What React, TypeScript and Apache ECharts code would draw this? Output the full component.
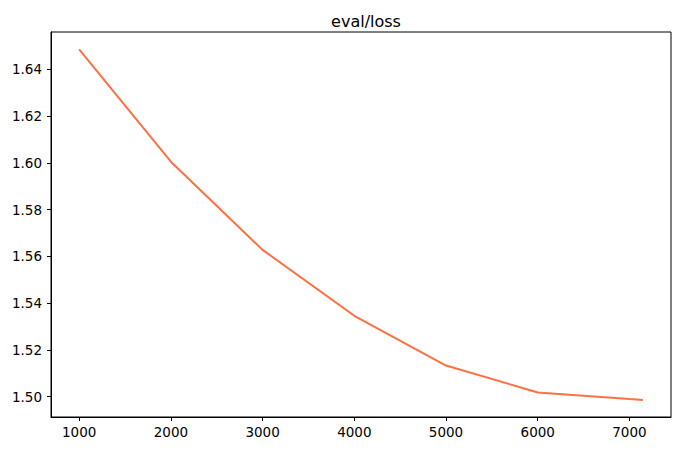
import React, { useEffect, useRef } from "react";
import * as echarts from "echarts";

const steps = [1000, 2000, 3000, 4000, 5000, 6000, 7000, 7146];
const evalLoss = [1.6486, 1.6005, 1.5628, 1.5346, 1.5133, 1.5018, 1.4990, 1.4986];
const xTicks = [1000, 2000, 3000, 4000, 5000, 6000, 7000];
const yTicks = [1.5, 1.52, 1.54, 1.56, 1.58, 1.6, 1.62, 1.64];

export default function App() {
  const ref = useRef<HTMLDivElement>(null);
  useEffect(() => {
    if (!ref.current) return;
    const chart = echarts.init(ref.current, null, { renderer: "svg" });
    const font = "DejaVu Sans";
    chart.setOption({
      animation: false,
      backgroundColor: "#ffffff",
      title: {
        text: "eval/loss",
        left: 361,
        textAlign: "center",
        top: 8,
        textStyle: { fontFamily: font, fontSize: 16, fontWeight: "normal", color: "#000" },
      },
      grid: {
        left: 51,
        right: 9,
        top: 32,
        bottom: 34,
        show: true,
        borderColor: "#000",
        borderWidth: 1,
        containLabel: false,
      },
      xAxis: {
        type: "value",
        min: 693,
        max: 7453,
        splitLine: { show: false },
        axisLine: { show: true, lineStyle: { color: "#000", width: 1 } },
        axisTick: { show: true, length: 4, lineStyle: { color: "#000" }, customValues: xTicks },
        axisLabel: {
          customValues: xTicks,
          margin: 8,
          color: "#000",
          fontFamily: font,
          fontSize: 13.5,
          formatter: (v: number) => String(Math.round(v)),
        },
      },
      yAxis: {
        type: "value",
        min: 1.4913,
        max: 1.656,
        splitLine: { show: false },
        axisLine: { show: true, lineStyle: { color: "#000", width: 1 } },
        axisTick: { show: true, length: 4, lineStyle: { color: "#000" }, customValues: yTicks },
        axisLabel: {
          customValues: yTicks,
          margin: 9,
          color: "#000",
          fontFamily: font,
          fontSize: 13.5,
          formatter: (v: number) => v.toFixed(2),
        },
      },
      series: [
        {
          type: "line",
          data: steps.map((s, i) => [s, evalLoss[i]]),
          showSymbol: false,
          lineStyle: { color: "#ff7043", width: 2 },
          itemStyle: { color: "#ff7043" },
        },
      ],
    });
    return () => chart.dispose();
  }, []);
  return (
    <div
      ref={ref}
      style={{ position: "fixed", left: 0, top: 0, width: 680, height: 451 }}
    />
  );
}
